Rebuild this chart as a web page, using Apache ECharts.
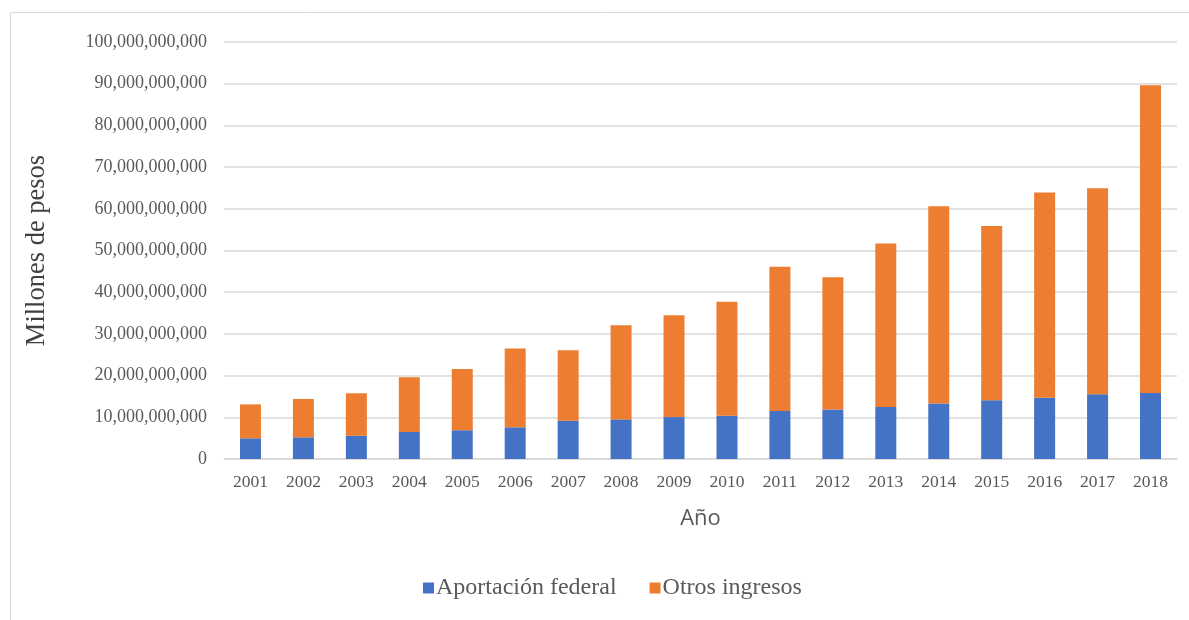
<!DOCTYPE html>
<html><head><meta charset="utf-8">
<script src="https://cdn.jsdelivr.net/npm/echarts@6/dist/echarts.min.js"></script>
<style>html,body{margin:0;padding:0;background:#fff}#c{width:1189px;height:620px}</style>
</head><body><div id="c"></div>
<script>
const years = ['2001','2002','2003','2004','2005','2006','2007','2008','2009','2010','2011','2012','2013','2014','2015','2016','2017','2018'];
const aportacionFederal = [4.96,5.2,5.6,6.5,6.9,7.6,9.2,9.5,10.05,10.4,11.5,11.9,12.5,13.3,14.1,14.7,15.5,15.8].map(v=>v*1e9);
const totalIngresos = [13.1,14.4,15.75,19.6,21.6,26.5,26.1,32.05,34.5,37.7,46.1,43.6,51.7,60.6,55.9,63.9,64.9,89.6].map(v=>v*1e9);
const otrosIngresos = totalIngresos.map((t,i)=>t-aportacionFederal[i]);

const chart = echarts.init(document.getElementById('c'));
const serif = '"Liberation Serif","Times New Roman",serif';
chart.setOption({
  animation:false,
  graphic:[{type:'rect',shape:{x:10.5,y:12.5,width:1200,height:640},style:{fill:'none',stroke:'#d9d9d9',lineWidth:1},silent:true}],
  grid:{left:224,right:12,top:42,bottom:161},
  legend:{top:571,left:418,itemWidth:11,itemHeight:11,itemGap:33,icon:'rect',
    textStyle:{fontFamily:serif,fontSize:24,color:'#595959',padding:[0,0,0,-3]},
    data:['Aportación federal','Otros ingresos']},
  xAxis:{type:'category',data:years,
    name:'Año',nameLocation:'middle',nameGap:49,
    nameTextStyle:{fontFamily:'"Open Sans","Liberation Sans",sans-serif',fontSize:22,color:'#595959'},
    axisLine:{lineStyle:{color:'#d9d9d9',width:1.5}},axisTick:{show:false},
    axisLabel:{fontFamily:serif,fontSize:17.5,color:'#595959',margin:14}},
  yAxis:{type:'value',min:0,max:100e9,interval:10e9,
    name:'Millones de pesos',nameLocation:'middle',nameGap:173,nameRotate:90,
    nameTextStyle:{fontFamily:serif,fontSize:26.5,color:'#404040'},
    axisLine:{show:false},axisTick:{show:false},
    splitLine:{lineStyle:{color:'#d9d9d9',width:1.5}},
    axisLabel:{fontFamily:serif,fontSize:18,color:'#595959',margin:17,
      formatter:v=>v===0?'0':v.toLocaleString('en-US')}},
  series:[
    {name:'Aportación federal',type:'bar',stack:'t',data:aportacionFederal,barWidth:21,
      itemStyle:{color:'#4472c4'}},
    {name:'Otros ingresos',type:'bar',stack:'t',data:otrosIngresos,barWidth:21,
      itemStyle:{color:'#ed7d31'}}
  ]
});
</script></body></html>
